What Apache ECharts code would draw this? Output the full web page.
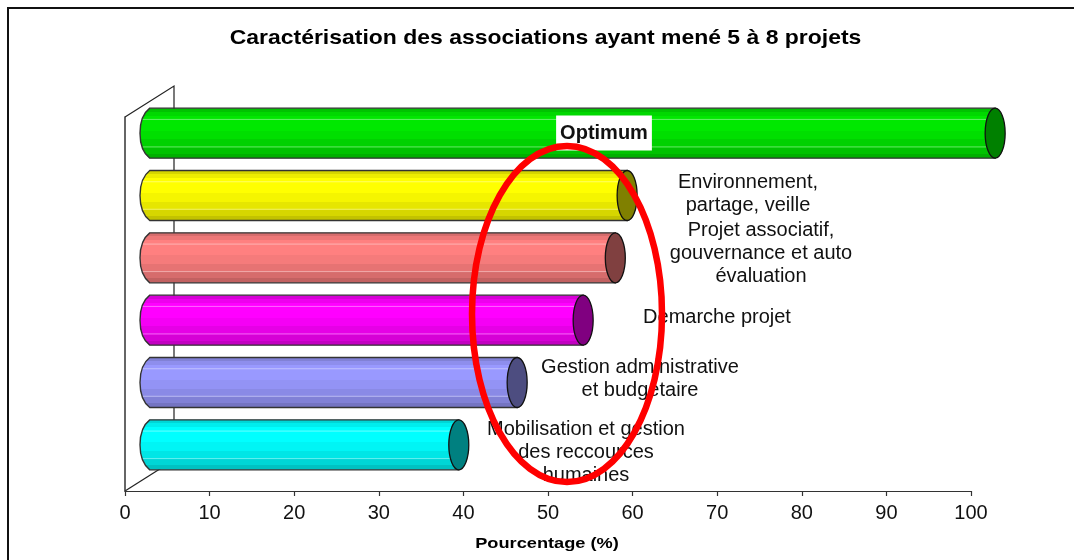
<!DOCTYPE html>
<html><head><meta charset="utf-8">
<style>html,body{margin:0;padding:0;background:#fff}#c{width:1074px;height:560px}</style>
<script src="https://cdn.jsdelivr.net/npm/echarts@6/dist/echarts.min.js"></script>
</head><body><div id="c"></div>
<script>
const categories = ['Mobilisation et gestion\ndes reccources\nhumaines','Gestion administrative\net budgétaire','Demarche projet','Projet associatif,\ngouvernance et auto\névaluation','Environnement,\npartage, veille','Optimum'];
const values = [36.5, 43.4, 51.2, 55, 56.4, 99.9];
const bodyColors = ['#00ffff','#9999ff','#ff00ff','#ff8080','#ffff00','#00e800'];
const capColors = ['#008080','#4d4d80','#800080','#804040','#808000','#008000'];
const labelCenters = [[586,452],[640,379],[717,317],[761,253],[748,194],[604,133]];
const tickLabels = ['0','10','20','30','40','50','60','70','80','90','100'];

const FONT = '"Liberation Sans",Arial,sans-serif';
const DX = 25, DY = -15, RX = 10, RY = 25;
function shade(hex, f){
  const n = parseInt(hex.slice(1),16);
  const c = [n>>16&255, n>>8&255, n&255].map(v=>Math.round(v*f));
  return `rgb(${c[0]},${c[1]},${c[2]})`;
}
function bandGradient(hex){
  const stops = [[0,.84],[.08,.93],[.16,1],[.45,.96],[.62,.9],[.78,.84],[.9,.76]];
  const cs = [];
  stops.forEach((s,i)=>{
    if(i){cs.push({offset:s[0],color:shade(hex,stops[i-1][1])});}
    cs.push({offset:s[0],color:shade(hex,s[1])});
  });
  cs.push({offset:1,color:shade(hex,.76)});
  return {type:'linear',x:0,y:0,x2:0,y2:1,colorStops:cs};
}
function renderBar(params, api){
  const i = api.value(2), v = api.value(0);
  const p0 = api.coord([0, i]), p1 = api.coord([v, i]);
  const cy = p0[1] + DY;
  const xl = p0[0] + DX, xr = p1[0] + DX;
  const body = 'M'+xl+' '+(cy-RY)+'L'+xr+' '+(cy-RY)+'L'+xr+' '+(cy+RY)+'L'+xl+' '+(cy+RY)+
    'C'+(xl-RX*1.3)+' '+(cy+RY*.6)+' '+(xl-RX*1.3)+' '+(cy-RY*.6)+' '+xl+' '+(cy-RY)+'Z';
  const highlight = [-.55,.55].map(f=>({type:'line',silent:true,
    shape:{x1:xl-7,y1:cy+RY*f,x2:xr-8,y2:cy+RY*f},
    style:{stroke:'rgba(255,255,255,.4)',lineWidth:1}}));
  return {type:'group',children:[
    {type:'path',shape:{pathData:body,layout:'cover',x:xl-RX,y:cy-RY,width:xr-xl+RX,height:RY*2},
      style:{fill:bandGradient(bodyColors[i]),stroke:'#333',lineWidth:1.4}},
    ...highlight,
    {type:'ellipse',shape:{cx:xr,cy:cy,rx:RX,ry:RY},
      style:{fill:capColors[i],stroke:'#111',lineWidth:1.3}}
  ]};
}
const labelGraphics = categories.map((t,i)=>({
  type:'text',x:labelCenters[i][0],y:labelCenters[i][1],z:20,
  style:{text:t,align:'center',verticalAlign:'middle',lineHeight:23,
    fontFamily:FONT,fontSize:20,
    fontWeight:i===5?'bold':'normal',fill:'#111',
    backgroundColor:i===5?'#fff':'transparent',padding:i===5?[6,4,6,4]:0}
}));
const chart = echarts.init(document.getElementById('c'),null,{renderer:'canvas'});
chart.setOption({
  animation:false,backgroundColor:'#fff',
  grid:{left:125,top:117,width:846,height:374},
  xAxis:{type:'value',min:0,max:100,interval:10,position:'bottom',
    splitLine:{show:false},
    axisLine:{show:true,lineStyle:{color:'#333',width:1.2}},
    axisTick:{show:true,inside:false,length:5,lineStyle:{color:'#333',width:1.2}},
    axisLabel:{margin:12,fontFamily:FONT,fontSize:20,color:'#111',
      formatter:v=>tickLabels[v/10]}},
  yAxis:{type:'category',data:categories,
    axisLabel:{show:false},axisTick:{show:false},splitLine:{show:false},
    axisLine:{show:true,lineStyle:{color:'#333',width:1.5}}},
  series:[{type:'custom',coordinateSystem:'cartesian2d',renderItem:renderBar,z:5,
    encode:{x:0,y:1},
    data:values.map((v,i)=>[v,categories[i],i])}],
  graphic:[
    {type:'polyline',z:0,shape:{points:[[125,117],[174,86],[174,462]]},style:{fill:'none',stroke:'#222',lineWidth:1.2}},
    {type:'line',z:0,shape:{x1:125,y1:491,x2:174,y2:460},style:{stroke:'#222',lineWidth:1.2}},
    {type:'polyline',z:0,shape:{points:[[8,560],[8,8],[1074,8]]},style:{fill:'none',stroke:'#111',lineWidth:2}},
    {type:'text',x:545.5,y:38,scaleX:1.12,z:20,
      style:{text:'Caractérisation des associations ayant mené 5 à 8 projets',align:'center',verticalAlign:'middle',
        fontFamily:FONT,fontSize:20.5,fontWeight:'bold',fill:'#000'}},
    {type:'text',x:547,y:544,scaleX:1.3,z:20,
      style:{text:'Pourcentage (%)',align:'center',verticalAlign:'middle',
        fontFamily:FONT,fontSize:14,fontWeight:'bold',fill:'#000'}},
    ...labelGraphics,
    {type:'ellipse',z:30,shape:{cx:567,cy:314,rx:95,ry:168},style:{fill:'none',stroke:'#ff0000',lineWidth:6.5}}
  ]
});
</script></body></html>
